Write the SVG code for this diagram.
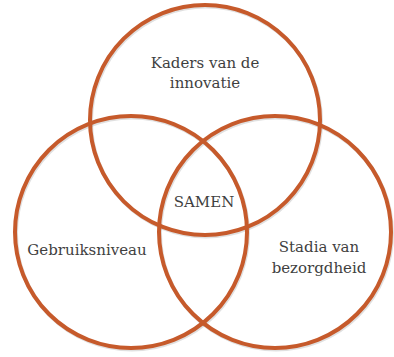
<svg xmlns="http://www.w3.org/2000/svg" width="394" height="357" viewBox="0 0 394 357">
<defs>
<style>
.c{fill:none;stroke:#C65A2B;stroke-width:4}
.s{fill:none;stroke:#000;stroke-opacity:0.12;stroke-width:4}
.t{font-family:"DejaVu Serif","Liberation Serif",serif;font-size:15px;fill:#3f3f3f;text-anchor:middle}
</style>
</defs>
<rect width="394" height="357" fill="#fff"/>
<g id="shadows">
<circle class="s" cx="206" cy="121.5" r="115"/>
<circle class="s" cx="132" cy="233.5" r="116"/>
<circle class="s" cx="276" cy="233.5" r="116"/>
</g>
<g id="kaders">
<circle class="c" cx="205" cy="120" r="115"/>
<text class="t" x="205" y="68">Kaders van de</text>
<text class="t" x="205" y="88">innovatie</text>
</g>
<g id="gebruik">
<circle class="c" cx="131" cy="232" r="116"/>
<text class="t" x="87" y="255">Gebruiksniveau</text>
</g>
<g id="stadia">
<circle class="c" cx="275" cy="232" r="116"/>
<text class="t" x="319" y="252">Stadia van</text>
<text class="t" x="319" y="273">bezorgdheid</text>
</g>
<g id="samen">
<text class="t" x="204" y="207">SAMEN</text>
</g>
</svg>
